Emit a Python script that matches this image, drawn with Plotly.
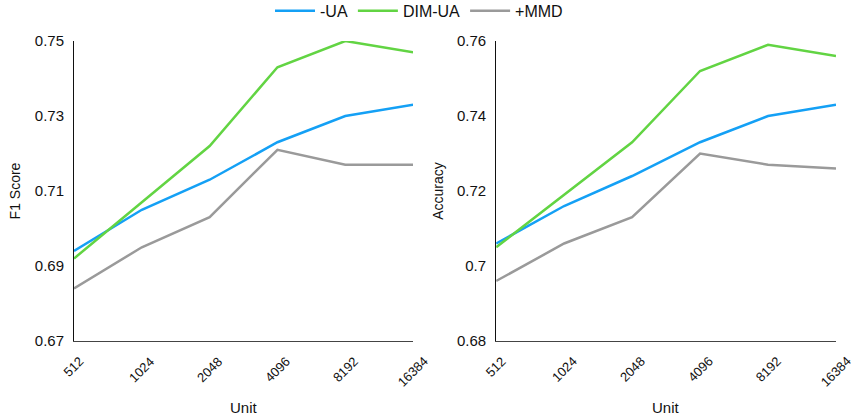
import plotly.graph_objects as go

units = ["512", "1024", "2048", "4096", "8192", "16384"]
series_names = ["-UA", "DIM-UA", "+MMD"]
f1_ua = [0.694, 0.705, 0.713, 0.723, 0.730, 0.733]
f1_dim = [0.692, 0.707, 0.722, 0.743, 0.750, 0.747]
f1_mmd = [0.684, 0.695, 0.703, 0.721, 0.717, 0.717]
acc_ua = [0.706, 0.716, 0.724, 0.733, 0.740, 0.743]
acc_dim = [0.705, 0.719, 0.733, 0.752, 0.759, 0.756]
acc_mmd = [0.696, 0.706, 0.713, 0.730, 0.727, 0.726]
colors = ["#14A0F5", "#62D443", "#9A9A9A"]

fig = go.Figure()
for name, vals, c in zip(series_names, [f1_ua, f1_dim, f1_mmd], colors):
    fig.add_trace(go.Scatter(x=units, y=vals, mode="lines", name=name,
                             line=dict(color=c, width=2.5), xaxis="x", yaxis="y"))
for name, vals, c in zip(series_names, [acc_ua, acc_dim, acc_mmd], colors):
    fig.add_trace(go.Scatter(x=units, y=vals, mode="lines", name=name, showlegend=False,
                             line=dict(color=c, width=2.5), xaxis="x2", yaxis="y2"))

font_family = "Liberation Sans, Arial, sans-serif"
xcommon = dict(type="category", range=[0, 5], showgrid=False, zeroline=False,
               showline=True, linecolor="#444", linewidth=1, ticks="", automargin=False,
               showticklabels=False)
ycommon = dict(showgrid=False, zeroline=False, showline=True, linecolor="#111",
               linewidth=1, ticks="", dtick=0.02, automargin=False, ticklabelstandoff=6,
               tickfont=dict(size=15, color="#111"))

annotations = []
for xr, yr, dom in [("x", "y domain", [0, 0.445]), ("x2", "y2 domain", [0.554, 1])]:
    for i, u in enumerate(units):
        annotations.append(dict(x=i, xref=xr, y=0, yref=yr, yshift=-10, text=u,
                                showarrow=False, textangle=-45, xanchor="center",
                                yanchor="top", font=dict(size=13, color="#111")))
    annotations.append(dict(x=(dom[0] + dom[1]) / 2, xref="paper", y=-0.2233, yref="paper",
                            text="Unit", showarrow=False, xanchor="center", yanchor="middle",
                            font=dict(size=15, color="#111")))

fig.update_layout(
    width=854, height=418,
    margin=dict(l=74, r=18, t=41, b=77),
    paper_bgcolor="white", plot_bgcolor="white",
    font=dict(family=font_family, color="#111"),
    showlegend=True,
    legend=dict(orientation="h", xref="container", yref="container",
                x=270 / 854, xanchor="left", y=0.974, yanchor="middle",
                font=dict(size=16), itemwidth=40, traceorder="normal"),
    xaxis=dict(domain=[0, 0.445], anchor="y", **xcommon),
    xaxis2=dict(domain=[0.554, 1], anchor="y2", **xcommon),
    yaxis=dict(domain=[0, 1], anchor="x", range=[0.67, 0.75], tick0=0.67,
               title=dict(text="F1 Score", font=dict(size=14), standoff=10), **ycommon),
    yaxis2=dict(domain=[0, 1], anchor="x2", range=[0.68, 0.76], tick0=0.68,
                title=dict(text="Accuracy", font=dict(size=14), standoff=10), **ycommon),
    annotations=annotations,
)

fig.write_html("out.html", config={"displayModeBar": False},
               post_script="document.body.style.margin='0';")
